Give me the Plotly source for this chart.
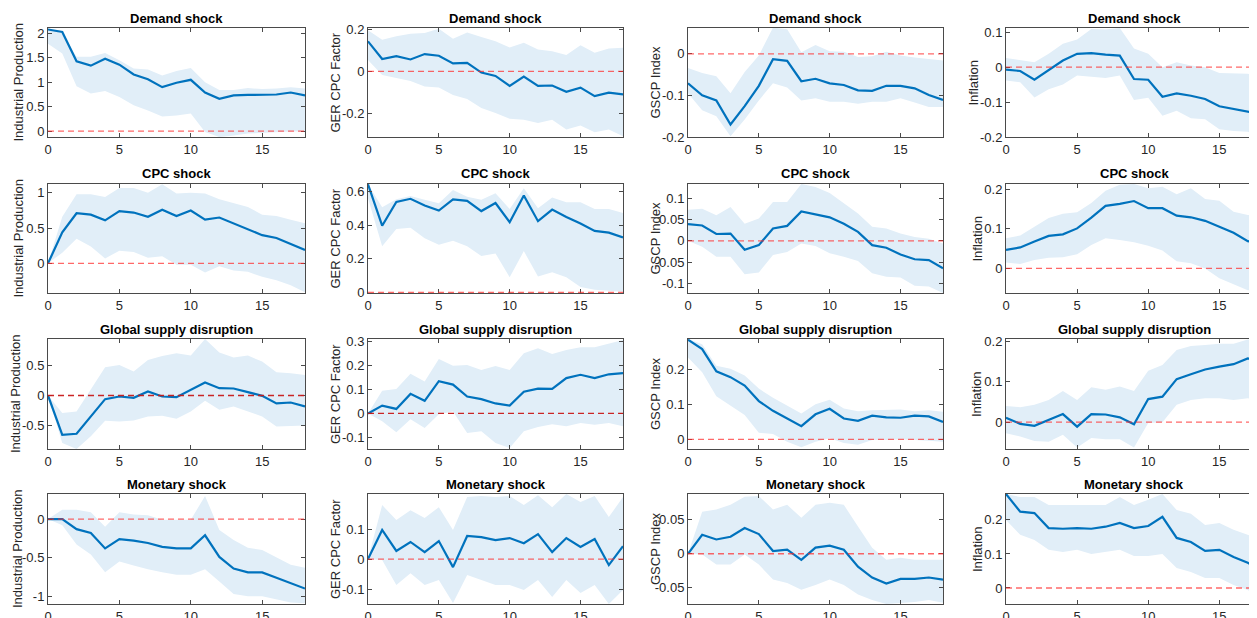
import plotly.graph_objects as go

# ---------------- data ----------------
HORIZON = list(range(19))
SHOCKS = ["Demand shock", "CPC shock", "Global supply disruption", "Monetary shock"]
VARIABLES = ["Industrial Production", "GER CPC Factor", "GSCP Index", "Inflation"]
X_TICKS = [0, 5, 10, 15]

# Demand shock
IP_DEM_MID = [2.08, 2.03, 1.43, 1.34, 1.48, 1.36, 1.16, 1.06, 0.90, 0.99, 1.05, 0.79, 0.66, 0.73, 0.74, 0.74, 0.75, 0.79, 0.73]
IP_DEM_HI = [2.10, 2.00, 1.52, 1.52, 1.60, 1.45, 1.28, 1.26, 1.14, 1.23, 1.29, 1.00, 0.84, 0.84, 0.88, 0.86, 0.87, 0.90, 0.87]
IP_DEM_LO = [1.79, 1.59, 0.92, 0.77, 0.82, 0.70, 0.53, 0.42, 0.30, 0.32, 0.36, -0.02, -0.12, -0.09, -0.05, -0.04, -0.02, -0.01, 0.00]
CPC_DEM_MID = [0.144, 0.059, 0.073, 0.057, 0.083, 0.075, 0.038, 0.041, -0.006, -0.022, -0.070, -0.025, -0.070, -0.068, -0.098, -0.078, -0.119, -0.102, -0.111]
CPC_DEM_HI = [0.197, 0.152, 0.168, 0.181, 0.184, 0.205, 0.157, 0.187, 0.165, 0.144, 0.114, 0.137, 0.105, 0.097, 0.078, 0.125, 0.089, 0.110, 0.113]
CPC_DEM_LO = [0.054, -0.017, -0.033, -0.046, -0.073, -0.078, -0.113, -0.133, -0.176, -0.200, -0.227, -0.232, -0.248, -0.232, -0.279, -0.260, -0.292, -0.279, -0.311]
GSCP_DEM_MID = [-0.071, -0.100, -0.112, -0.170, -0.126, -0.077, -0.013, -0.017, -0.066, -0.060, -0.071, -0.075, -0.088, -0.089, -0.077, -0.077, -0.083, -0.099, -0.111]
GSCP_DEM_HI = [-0.034, -0.046, -0.054, -0.095, -0.044, -0.004, 0.063, 0.059, 0.004, 0.021, 0.006, 0.005, -0.008, -0.006, 0.005, -0.004, -0.009, -0.013, -0.016]
GSCP_DEM_LO = [-0.095, -0.136, -0.150, -0.198, -0.158, -0.112, -0.071, -0.081, -0.112, -0.107, -0.115, -0.115, -0.120, -0.115, -0.115, -0.107, -0.117, -0.128, -0.128]
INF_DEM_MID = [-0.007, -0.011, -0.036, -0.008, 0.019, 0.038, 0.040, 0.036, 0.033, -0.034, -0.036, -0.085, -0.075, -0.082, -0.091, -0.112, -0.119, -0.127, -0.135]
INF_DEM_HI = [0.026, 0.021, 0.014, 0.038, 0.067, 0.079, 0.109, 0.108, 0.112, 0.053, 0.038, 0.000, 0.014, 0.005, 0.000, -0.017, -0.019, -0.019, -0.024]
INF_DEM_LO = [-0.038, -0.043, -0.087, -0.063, -0.050, -0.024, -0.027, -0.031, -0.024, -0.094, -0.088, -0.139, -0.125, -0.146, -0.149, -0.178, -0.183, -0.185, -0.200]

# CPC shock
IP_CPC_MID = [0.00, 0.44, 0.71, 0.69, 0.61, 0.74, 0.72, 0.66, 0.76, 0.67, 0.75, 0.62, 0.65, 0.57, 0.49, 0.40, 0.36, 0.28, 0.19]
IP_CPC_HI = [0.00, 0.66, 0.98, 0.98, 0.94, 1.07, 1.07, 1.00, 1.12, 0.99, 1.00, 0.99, 0.91, 0.85, 0.80, 0.69, 0.67, 0.62, 0.57]
IP_CPC_LO = [0.00, 0.15, 0.35, 0.24, 0.07, 0.18, 0.16, 0.08, 0.10, -0.02, -0.02, -0.13, -0.04, -0.10, -0.12, -0.19, -0.24, -0.31, -0.41]
CPC_CPC_MID = [0.643, 0.397, 0.538, 0.557, 0.517, 0.487, 0.553, 0.545, 0.484, 0.532, 0.418, 0.577, 0.424, 0.493, 0.449, 0.410, 0.366, 0.356, 0.327]
CPC_CPC_HI = [0.643, 0.507, 0.555, 0.574, 0.551, 0.530, 0.609, 0.569, 0.551, 0.590, 0.497, 0.619, 0.501, 0.565, 0.536, 0.536, 0.497, 0.497, 0.472]
CPC_CPC_LO = [0.560, 0.275, 0.377, 0.385, 0.323, 0.284, 0.307, 0.275, 0.217, 0.232, 0.091, 0.246, 0.095, 0.120, 0.091, 0.033, 0.017, 0.010, 0.004]
GSCP_CPC_MID = [0.039, 0.036, 0.016, 0.017, -0.021, -0.010, 0.029, 0.035, 0.069, 0.062, 0.055, 0.040, 0.021, -0.010, -0.016, -0.032, -0.043, -0.045, -0.064]
GSCP_CPC_HI = [0.073, 0.075, 0.060, 0.079, 0.040, 0.052, 0.091, 0.091, 0.133, 0.126, 0.112, 0.087, 0.064, 0.033, 0.029, 0.017, 0.009, 0.005, -0.006]
GSCP_CPC_LO = [0.000, -0.014, -0.037, -0.037, -0.078, -0.074, -0.033, -0.026, -0.006, -0.012, -0.029, -0.037, -0.047, -0.076, -0.084, -0.086, -0.105, -0.107, -0.122]
INF_CPC_MID = [0.047, 0.053, 0.068, 0.082, 0.086, 0.101, 0.128, 0.158, 0.163, 0.170, 0.152, 0.152, 0.133, 0.129, 0.120, 0.105, 0.090, 0.069, 0.063]
INF_CPC_HI = [0.076, 0.083, 0.105, 0.127, 0.138, 0.142, 0.165, 0.196, 0.211, 0.213, 0.202, 0.206, 0.187, 0.202, 0.175, 0.171, 0.143, 0.135, 0.132]
INF_CPC_LO = [0.015, 0.011, 0.021, 0.027, 0.028, 0.036, 0.059, 0.076, 0.072, 0.066, 0.057, 0.045, 0.018, 0.013, 0.000, -0.025, -0.041, -0.055, -0.059]

# Global supply disruption
IP_GSD_MID = [0.000, -0.656, -0.639, -0.350, -0.061, -0.017, -0.039, 0.067, -0.017, -0.028, 0.094, 0.217, 0.122, 0.117, 0.056, -0.006, -0.133, -0.117, -0.183]
IP_GSD_HI = [0.000, -0.294, -0.267, 0.094, 0.472, 0.511, 0.400, 0.594, 0.661, 0.706, 0.667, 0.944, 0.717, 0.633, 0.667, 0.567, 0.389, 0.372, 0.344]
IP_GSD_LO = [0.000, -0.794, -0.894, -0.683, -0.422, -0.433, -0.417, -0.350, -0.339, -0.389, -0.267, -0.089, -0.239, -0.183, -0.267, -0.350, -0.517, -0.506, -0.500]
CPC_GSD_MID = [0.000, 0.033, 0.019, 0.082, 0.053, 0.135, 0.121, 0.071, 0.060, 0.042, 0.033, 0.091, 0.104, 0.103, 0.148, 0.162, 0.148, 0.164, 0.169]
CPC_GSD_HI = [0.000, 0.095, 0.102, 0.166, 0.134, 0.228, 0.200, 0.203, 0.182, 0.199, 0.182, 0.252, 0.273, 0.249, 0.266, 0.277, 0.277, 0.294, 0.308]
CPC_GSD_LO = [0.000, -0.033, -0.079, -0.024, -0.061, -0.003, 0.008, -0.082, -0.075, -0.124, -0.145, -0.075, -0.057, -0.045, -0.054, -0.040, -0.047, -0.040, -0.054]
GSCP_GSD_MID = [0.287, 0.260, 0.196, 0.179, 0.155, 0.110, 0.082, 0.060, 0.038, 0.072, 0.088, 0.060, 0.053, 0.068, 0.063, 0.062, 0.068, 0.066, 0.050]
GSCP_GSD_HI = [0.289, 0.274, 0.212, 0.203, 0.184, 0.146, 0.120, 0.098, 0.074, 0.101, 0.114, 0.089, 0.081, 0.084, 0.084, 0.086, 0.081, 0.084, 0.079]
GSCP_GSD_LO = [0.236, 0.193, 0.124, 0.098, 0.070, 0.019, 0.015, -0.007, -0.023, -0.007, 0.003, -0.011, -0.016, -0.002, -0.002, 0.000, -0.002, -0.004, -0.007]
INF_GSD_MID = [0.011, -0.004, -0.009, 0.006, 0.020, -0.011, 0.020, 0.019, 0.012, -0.005, 0.057, 0.063, 0.106, 0.118, 0.130, 0.137, 0.143, 0.157, 0.155]
INF_GSD_HI = [0.040, 0.037, 0.043, 0.055, 0.077, 0.055, 0.086, 0.080, 0.088, 0.077, 0.127, 0.141, 0.178, 0.188, 0.190, 0.193, 0.193, 0.204, 0.204]
INF_GSD_LO = [-0.027, -0.035, -0.046, -0.048, -0.031, -0.062, -0.039, -0.042, -0.042, -0.062, -0.002, 0.000, 0.043, 0.055, 0.059, 0.059, 0.055, 0.059, 0.055]

# Monetary shock
IP_MON_MID = [0.00, 0.00, -0.13, -0.18, -0.38, -0.26, -0.28, -0.31, -0.36, -0.38, -0.38, -0.21, -0.49, -0.64, -0.69, -0.69, -0.76, -0.83, -0.90]
IP_MON_HI = [0.00, 0.12, 0.12, 0.09, -0.10, 0.09, 0.06, 0.05, -0.01, -0.01, -0.01, 0.30, -0.14, -0.27, -0.37, -0.40, -0.50, -0.59, -0.63]
IP_MON_LO = [0.00, -0.08, -0.33, -0.46, -0.69, -0.55, -0.60, -0.65, -0.69, -0.72, -0.72, -0.65, -0.81, -0.97, -1.00, -1.00, -1.04, -1.08, -1.09]
CPC_MON_MID = [0.000, 0.097, 0.027, 0.057, 0.023, 0.060, -0.027, 0.077, 0.073, 0.063, 0.070, 0.053, 0.083, 0.023, 0.070, 0.040, 0.067, -0.020, 0.043]
CPC_MON_HI = [0.000, 0.180, 0.130, 0.163, 0.137, 0.173, 0.097, 0.207, 0.210, 0.207, 0.210, 0.180, 0.213, 0.173, 0.217, 0.190, 0.210, 0.140, 0.207]
CPC_MON_LO = [0.000, -0.003, -0.087, -0.047, -0.087, -0.070, -0.147, -0.053, -0.070, -0.087, -0.087, -0.103, -0.070, -0.127, -0.070, -0.113, -0.087, -0.150, -0.103]
GSCP_MON_MID = [0.000, 0.028, 0.021, 0.025, 0.038, 0.029, 0.004, 0.006, -0.009, 0.009, 0.012, 0.006, -0.019, -0.035, -0.044, -0.037, -0.037, -0.035, -0.038]
GSCP_MON_HI = [0.000, 0.062, 0.065, 0.072, 0.084, 0.085, 0.065, 0.072, 0.053, 0.072, 0.075, 0.072, 0.040, 0.009, -0.009, -0.006, -0.009, -0.009, -0.009]
GSCP_MON_LO = [0.000, -0.001, -0.016, -0.016, -0.001, -0.016, -0.038, -0.043, -0.053, -0.046, -0.038, -0.046, -0.060, -0.068, -0.074, -0.072, -0.071, -0.068, -0.072]
INF_MON_MID = [0.276, 0.224, 0.220, 0.176, 0.174, 0.176, 0.174, 0.180, 0.191, 0.176, 0.182, 0.209, 0.147, 0.135, 0.109, 0.112, 0.091, 0.074, 0.053]
INF_MON_HI = [0.276, 0.267, 0.267, 0.244, 0.244, 0.244, 0.244, 0.244, 0.267, 0.244, 0.259, 0.276, 0.229, 0.218, 0.185, 0.191, 0.171, 0.156, 0.141]
INF_MON_LO = [0.200, 0.156, 0.141, 0.112, 0.106, 0.112, 0.100, 0.106, 0.112, 0.094, 0.094, 0.100, 0.059, 0.047, 0.029, 0.029, 0.009, -0.006, -0.029]

# panel order: row = shock, column = variable
PANELS = [
    [(IP_DEM_MID, IP_DEM_LO, IP_DEM_HI), (CPC_DEM_MID, CPC_DEM_LO, CPC_DEM_HI),
     (GSCP_DEM_MID, GSCP_DEM_LO, GSCP_DEM_HI), (INF_DEM_MID, INF_DEM_LO, INF_DEM_HI)],
    [(IP_CPC_MID, IP_CPC_LO, IP_CPC_HI), (CPC_CPC_MID, CPC_CPC_LO, CPC_CPC_HI),
     (GSCP_CPC_MID, GSCP_CPC_LO, GSCP_CPC_HI), (INF_CPC_MID, INF_CPC_LO, INF_CPC_HI)],
    [(IP_GSD_MID, IP_GSD_LO, IP_GSD_HI), (CPC_GSD_MID, CPC_GSD_LO, CPC_GSD_HI),
     (GSCP_GSD_MID, GSCP_GSD_LO, GSCP_GSD_HI), (INF_GSD_MID, INF_GSD_LO, INF_GSD_HI)],
    [(IP_MON_MID, IP_MON_LO, IP_MON_HI), (CPC_MON_MID, CPC_MON_LO, CPC_MON_HI),
     (GSCP_MON_MID, GSCP_MON_LO, GSCP_MON_HI), (INF_MON_MID, INF_MON_LO, INF_MON_HI)],
]

Y_RANGES = [
    [(-0.12, 2.11), (-0.315, 0.208), (-0.2, 0.062), (-0.2, 0.112)],
    [(-0.42, 1.125), (-0.003, 0.645), (-0.122, 0.133), (-0.062, 0.213)],
    [(-0.894, 0.944), (-0.149, 0.312), (-0.028, 0.289), (-0.066, 0.205)],
    [(-1.10, 0.325), (-0.15, 0.217), (-0.074, 0.088), (-0.047, 0.276)],
]
Y_TICKVALS = [
    [[0, 0.5, 1, 1.5, 2], [-0.2, 0, 0.2], [-0.2, -0.1, 0], [-0.2, -0.1, 0, 0.1]],
    [[0, 0.5, 1], [0, 0.2, 0.4, 0.6], [-0.1, -0.05, 0, 0.05, 0.1], [0, 0.1, 0.2]],
    [[-0.5, 0, 0.5], [-0.1, 0, 0.1, 0.2, 0.3], [0, 0.1, 0.2], [0, 0.1, 0.2]],
    [[-1, -0.5, 0], [-0.1, 0, 0.1], [-0.05, 0, 0.05], [0, 0.1, 0.2]],
]
Y_TICKTEXT = [
    [["0", "0.5", "1", "1.5", "2"], ["-0.2", "0", "0.2"], ["-0.2", "-0.1", "0"], ["-0.2", "-0.1", "0", "0.1"]],
    [["0", "0.5", "1"], ["0", "0.2", "0.4", "0.6"], ["-0.1", "-0.05", "0", "0.05", "0.1"], ["0", "0.1", "0.2"]],
    [["-0.5", "0", "0.5"], ["-0.1", "0", "0.1", "0.2", "0.3"], ["0", "0.1", "0.2"], ["0", "0.1", "0.2"]],
    [["-1", "-0.5", "0"], ["-0.1", "0", "0.1"], ["-0.05", "0", "0.05"], ["0", "0.1", "0.2"]],
]

# ---------------- layout geometry (screen pixels; page body has an 8px margin) ----------------
OFF = 8
W, H = 1257 - OFF, 618 - OFF
COL_LEFT = [48, 368, 688, 1006]
COL_RIGHT = [305, 623, 943, 1257]
ROW_TOP = [28, 184, 339, 494]
ROW_BOTTOM = [137, 293, 449, 604]
YLABEL_X = [[18, 335, 655, 973], [18, 335, 655, 977], [15, 335, 655, 976], [17, 335, 655, 977]]
LAST_COL_XMAX = (1257 - 1006) / (256.0 / 18)


def px_x(v):
    return (v - OFF) / W


def px_y(v):
    return 1 - (v - OFF) / H


LINE_BLUE = "#0072BD"
BAND = "#E1EEF8"
AX = "#4a4a4a"
TXT = "#262626"
ZERO_LIGHT = "rgba(255,40,40,0.7)"
ZERO_DARK = "rgba(200,25,25,0.95)"
FONT = "Liberation Sans, Arial, Helvetica, sans-serif"

fig = go.Figure()
layout = dict(
    template="none",
    width=W, height=H, autosize=False,
    margin=dict(l=0, r=0, t=0, b=0, pad=0, autoexpand=False),
    paper_bgcolor="white", plot_bgcolor="white",
    showlegend=False,
    font=dict(family=FONT, size=13, color=TXT),
)
annotations = []
shapes = []

for r in range(4):
    for c in range(4):
        k = r * 4 + c + 1
        xa = "x" if k == 1 else f"x{k}"
        ya = "y" if k == 1 else f"y{k}"
        mid, lo, hi = PANELS[r][c]
        fig.add_trace(go.Scatter(
            x=HORIZON + HORIZON[::-1], y=hi + lo[::-1],
            fill="toself", fillcolor=BAND, line=dict(width=0),
            mode="lines", hoverinfo="skip", xaxis=xa, yaxis=ya))
        fig.add_trace(go.Scatter(
            x=HORIZON, y=mid, mode="lines",
            line=dict(color=LINE_BLUE, width=2.2), xaxis=xa, yaxis=ya))

        xd = [px_x(COL_LEFT[c]), min(1.0, px_x(COL_RIGHT[c]))]
        yd = [px_y(ROW_BOTTOM[r]), px_y(ROW_TOP[r])]
        xmax = LAST_COL_XMAX if c == 3 else 18
        axis_common = dict(showline=True, linecolor=AX, linewidth=1,
                           ticks="inside", ticklen=4, tickcolor=AX, tickwidth=1,
                           showgrid=False, zeroline=False, automargin=False,
                           tickfont=dict(family=FONT, size=13, color=TXT))
        layout["xaxis" if k == 1 else f"xaxis{k}"] = dict(
            domain=xd, anchor=ya, range=[0, xmax], tickvals=X_TICKS,
            ticktext=[str(v) for v in X_TICKS], mirror="ticks", **axis_common)
        layout["yaxis" if k == 1 else f"yaxis{k}"] = dict(
            domain=yd, anchor=xa, range=list(Y_RANGES[r][c]),
            tickvals=Y_TICKVALS[r][c], ticktext=Y_TICKTEXT[r][c],
            mirror=("ticks" if c < 3 else False), **axis_common)

        zero_color = ZERO_DARK if (r == 2 and c < 2) else ZERO_LIGHT
        shapes.append(dict(type="line", xref=f"{xa} domain", yref=ya,
                           x0=0, x1=1, y0=0, y1=0, layer="above",
                           line=dict(color=zero_color, width=1.3, dash="6px,4px")))

        xcenter_px = (COL_LEFT[c] + (COL_LEFT[c] + 256 if c == 3 else COL_RIGHT[c])) / 2
        annotations.append(dict(
            text=f"<b>{SHOCKS[r]}</b>", x=px_x(xcenter_px),
            y=px_y(ROW_TOP[r] - 10), xref="paper", yref="paper",
            xanchor="center", yanchor="middle", showarrow=False,
            font=dict(family=FONT, size=13, color="black")))
        annotations.append(dict(
            text=VARIABLES[c], x=px_x(YLABEL_X[r][c]), y=(yd[0] + yd[1]) / 2,
            xref="paper", yref="paper", xanchor="center", yanchor="middle",
            textangle=-90, showarrow=False,
            font=dict(family=FONT, size=13, color=TXT)))

layout["annotations"] = annotations
layout["shapes"] = shapes
fig.update_layout(**layout)
fig.write_html("out.html")
